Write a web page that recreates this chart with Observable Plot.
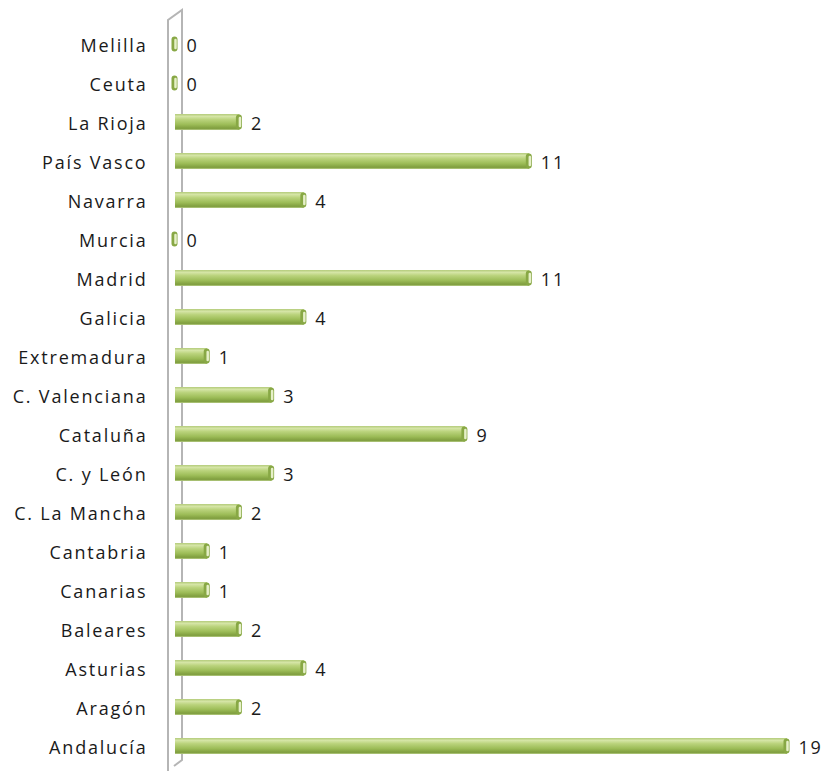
<!DOCTYPE html>
<html>
<head>
<meta charset="utf-8">
<script src="https://cdn.jsdelivr.net/npm/d3@7"></script>
<script src="https://cdn.jsdelivr.net/npm/@observablehq/plot@0.6"></script>
<style>
  html, body { margin: 0; padding: 0; background: #fff; }
  #chart svg { display: block; }
</style>
</head>
<body>
<div id="chart"></div>
<script>
const regions = ["Melilla","Ceuta","La Rioja","País Vasco","Navarra","Murcia","Madrid","Galicia","Extremadura","C. Valenciana","Cataluña","C. y León","C. La Mancha","Cantabria","Canarias","Baleares","Asturias","Aragón","Andalucía"];
const counts  = [0,0,2,11,4,0,11,4,1,3,9,3,2,1,1,2,4,2,19];

const data = regions.map((r, i) => ({region: r, value: counts[i]}));
const font = "'Open Sans', sans-serif";

const plot = Plot.plot({
  width: 826,
  height: 771,
  marginLeft: 175,
  marginRight: 39,
  marginTop: 18,
  marginBottom: 0,
  style: {fontFamily: font, fontSize: "18px", color: "#1a1a1a", background: "#fff"},
  x: {domain: [0, 19], axis: null},
  y: {domain: regions, paddingInner: 0.6, paddingOuter: 0.3, label: null, tickSize: 0, tickPadding: 28},
  marks: [
    Plot.axisY({tickSize: 0, tickPadding: 28, label: null, fontSize: 18, fill: "#1a1a1a", dy: 2}),
    Plot.barX(data, {x: "value", y: "region", fill: "url(#barGrad)"}),
    Plot.tickX(data, {x: "value", y: "region", stroke: "#88a845", strokeWidth: 6, strokeLinecap: "round", insetTop: 3.5, insetBottom: 3.5, dx: -1}),
    Plot.tickX(data, {x: "value", y: "region", stroke: "#e6f0c8", strokeWidth: 2.5, strokeLinecap: "round", insetTop: 4, insetBottom: 4, dx: 0}),
    Plot.text(data, {x: "value", y: "region", text: d => String(d.value), textAnchor: "start", dx: 11, dy: 2, fontSize: 18, fill: "#1a1a1a"})
  ]
});

const svg = d3.select(plot);
svg.selectAll("text").style("letter-spacing", "1.8px");
const defs = svg.insert("defs", ":first-child");
const grad = defs.append("linearGradient").attr("id", "barGrad").attr("x1", 0).attr("y1", 0).attr("x2", 0).attr("y2", 1);
[["0%", "#b3cb7a"], ["15%", "#d5e5a6"], ["35%", "#bad37c"], ["65%", "#9dbd58"], ["90%", "#7f9e3e"], ["100%", "#b8cd88"]]
  .forEach(([o, c]) => grad.append("stop").attr("offset", o).attr("stop-color", c));

// 3D back wall outline drawn from the scales
const x0 = plot.scale("x").apply(0);
const yr = plot.scale("y").range;
const wallTop = yr[0], wallBot = yr[1];
const wall = svg.insert("g", "g[aria-label='bar']");
wall.append("path")
  .attr("d", `M${x0 - 7},${wallBot + 2} L${x0 - 7},${wallTop + 2} L${x0 + 7},${wallTop - 8} L${x0 + 7},${wallBot - 11} L${x0 - 1},${wallBot - 5}`)
  .attr("fill", "none").attr("stroke", "#b5b5b5").attr("stroke-width", 2);

document.getElementById("chart").appendChild(plot);
</script>
</body>
</html>
